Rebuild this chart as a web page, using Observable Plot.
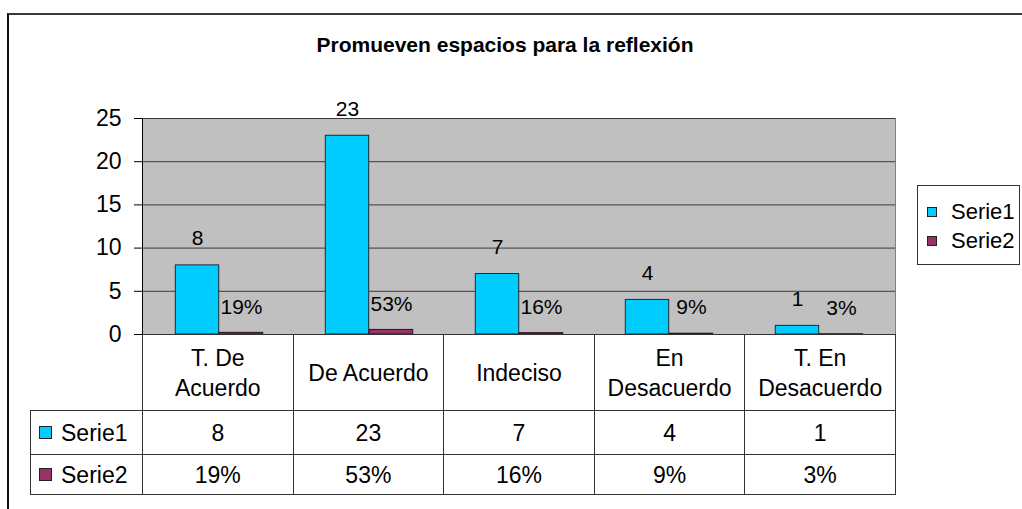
<!DOCTYPE html>
<html>
<head>
<meta charset="utf-8">
<script src="https://cdn.jsdelivr.net/npm/d3@7"></script>
<script src="https://cdn.jsdelivr.net/npm/@observablehq/plot@0.6"></script>
<style>
  html, body { margin: 0; padding: 0; background: #fff; }
  #wrap { position: relative; width: 1022px; height: 509px; overflow: hidden; background: #fff;
          font-family: "Liberation Sans", Arial, sans-serif; color: #000; }
  #frame { position: absolute; left: 7px; top: 13px; width: 1100px; height: 600px;
           border-left: 2px solid #111; border-top: 2px solid #3a3a3a; }
  #title { position: absolute; left: 0; width: 1010px; top: 33px; text-align: center;
           font-weight: bold; font-size: 21px; line-height: 24px; }
  #chart { position: absolute; left: 0; top: 0; }
  #legend { position: absolute; left: 917px; top: 185px; width: 103px; height: 80px;
            border: 1px solid #333; box-sizing: border-box; font-size: 22px; }
  .lrow { position: absolute; left: 9px; display: flex; align-items: center; height: 26px; }
  .lsw { width: 10px; height: 10px; border: 1px solid #222; box-sizing: border-box; margin-right: 14px; }
  #table { position: absolute; left: 30px; top: 334px; border-collapse: collapse; table-layout: fixed;
           font-size: 23px; }
  #table td { border: 1px solid #333; text-align: center; vertical-align: middle; padding: 0; line-height: 30px; }
  #table td.blank { border: none; }
  #table td.key { text-align: left; }
  .tk { display: flex; align-items: center; padding-left: 8px; }
  .tsw { width: 13px; height: 13px; border: 1px solid #222; box-sizing: border-box; margin-right: 9px; }
</style>
</head>
<body>
<div id="wrap">
  <div id="frame"></div>
  <div id="title"></div>
  <div id="chart"></div>
  <div id="legend"></div>
  <table id="table"></table>
</div>
<script>
// ---- data ----
const chartTitle = "Promueven espacios para la reflexión";
const categories = ["T. De Acuerdo", "De Acuerdo", "Indeciso", "En Desacuerdo", "T. En Desacuerdo"];
const categoryLines = [["T. De", "Acuerdo"], ["De Acuerdo"], ["Indeciso"], ["En", "Desacuerdo"], ["T. En", "Desacuerdo"]];
const seriesNames = ["Serie1", "Serie2"];
const serie1 = [8, 23, 7, 4, 1];
const serie2 = [0.19, 0.53, 0.16, 0.09, 0.03];
const yTicks = [0, 5, 10, 15, 20, 25];
const seriesColors = ["#00CCFF", "#993366"];

// ---- layout ----
const W = 1022, H = 350;
const mL = 142, mR = 127, mT = 118, mB = 16;
const bandW = (W - mL - mR) / categories.length;
const barW = 44;
const outer = bandW / 2 - barW;
const pct = d3.format(".0%");
const fmt1 = d3.format("d");

const rows = categories.map((c, i) => ({cat: c, s1: serie1[i], s2: serie2[i]}));

document.getElementById("title").textContent = chartTitle;

const chart = Plot.plot({
  width: W, height: H,
  marginLeft: mL, marginRight: mR, marginTop: mT, marginBottom: mB,
  style: {background: "transparent", fontFamily: "'Liberation Sans', Arial, sans-serif",
          fontSize: "21px", color: "#000", overflow: "visible"},
  x: {domain: categories, padding: 0, axis: null},
  y: {domain: [yTicks[0], yTicks[yTicks.length - 1]], axis: null},
  marks: [
    Plot.frame({fill: "#C0C0C0", stroke: "#808080"}),
    Plot.ruleY(yTicks.filter(t => t > 0), {stroke: "#3a3a3a", strokeWidth: 1}),
    Plot.barY(rows, {x: "cat", y: "s1", fill: seriesColors[0], stroke: "#1d2b2f", strokeWidth: 1,
                     insetLeft: outer, insetRight: bandW / 2}),
    Plot.barY(rows, {x: "cat", y: "s2", fill: seriesColors[1], stroke: "#2a1420", strokeWidth: 1,
                     insetLeft: bandW / 2, insetRight: outer}),
    Plot.text(rows, {x: "cat", y: "s1", text: d => fmt1(d.s1), dx: -barW / 2, dy: -27, fill: "#000", fontSize: 21}),
    Plot.text(rows, {x: "cat", y: "s2", text: d => pct(d.s2), dx: barW / 2, dy: -26, fill: "#000", fontSize: 21}),
    Plot.axisY({ticks: yTicks, tickSize: 8, tickPadding: 13, stroke: "#000", fill: "#000", fontSize: 23}),
    Plot.frame({anchor: "left", stroke: "#000"}),
    Plot.ruleY([0], {stroke: "#000"})
  ]
});
document.getElementById("chart").appendChild(chart);

// legend
const legend = document.getElementById("legend");
const legendTops = [14, 43];
seriesNames.forEach((name, i) => {
  const r = document.createElement("div");
  r.className = "lrow";
  r.style.top = (legendTops[i] - 1) + "px";
  const sw = document.createElement("span");
  sw.className = "lsw";
  sw.style.background = seriesColors[i];
  const t = document.createElement("span");
  t.textContent = name;
  r.appendChild(sw); r.appendChild(t);
  legend.appendChild(r);
});

// data table
const table = document.getElementById("table");
const colgroup = document.createElement("colgroup");
[112].concat(categories.map(() => bandW)).forEach(w => {
  const c = document.createElement("col"); c.style.width = w + "px"; colgroup.appendChild(c);
});
table.appendChild(colgroup);
table.style.width = (112 + bandW * categories.length) + "px";
const rowHeights = [76, 44, 40];
// header
const hr = document.createElement("tr");
hr.style.height = rowHeights[0] + "px";
const blank = document.createElement("td"); blank.className = "blank"; hr.appendChild(blank);
categoryLines.forEach(lines => {
  const td = document.createElement("td");
  td.innerHTML = lines.map(l => l.replace(/&/g, "&amp;")).join("<br>");
  hr.appendChild(td);
});
table.appendChild(hr);
const seriesValues = [serie1.map(v => fmt1(v)), serie2.map(v => pct(v))];
seriesNames.forEach((name, si) => {
  const tr = document.createElement("tr");
  tr.style.height = rowHeights[si + 1] + "px";
  const k = document.createElement("td"); k.className = "key";
  const wrapK = document.createElement("div"); wrapK.className = "tk";
  const sw = document.createElement("span"); sw.className = "tsw"; sw.style.background = seriesColors[si];
  const t = document.createElement("span"); t.textContent = name;
  wrapK.appendChild(sw); wrapK.appendChild(t); k.appendChild(wrapK);
  tr.appendChild(k);
  seriesValues[si].forEach(v => {
    const td = document.createElement("td"); td.textContent = v; tr.appendChild(td);
  });
  table.appendChild(tr);
});
</script>
</body>
</html>
